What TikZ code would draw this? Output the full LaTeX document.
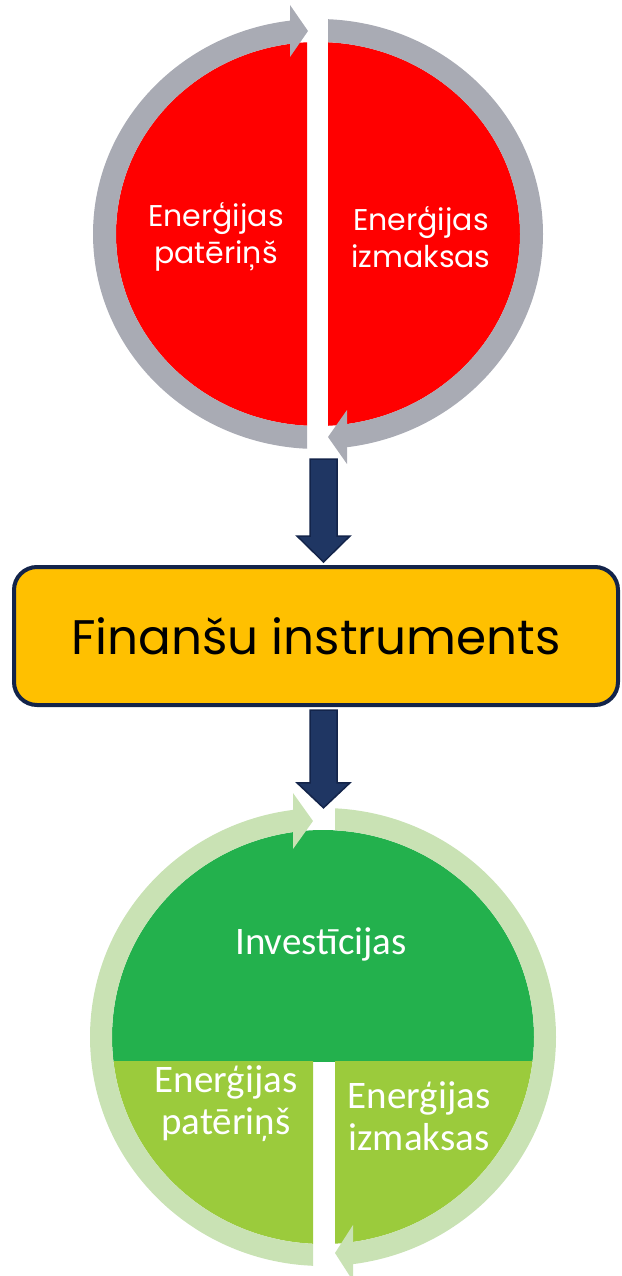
\documentclass[tikz,border=0pt]{standalone}
\usepackage{fontspec}
\newfontfamily\gothic{Poppins}
\newfontfamily\calib{Carlito}
\usetikzlibrary{calc}
\usetikzlibrary{shapes.geometric}

\definecolor{ringgray}{HTML}{A9ABB4}
\definecolor{hotred}{HTML}{FF0000}
\definecolor{navy}{HTML}{1F3663}
\definecolor{navyedge}{HTML}{13244A}
\definecolor{gold}{HTML}{FFC000}
\definecolor{darkgreen}{HTML}{23B14D}
\definecolor{lightgreen}{HTML}{9BCB3C}
\definecolor{palegreen}{HTML}{C9E2B4}

\tikzset{
	circ/.style={ellipse, draw=none, inner sep=0pt},
	redtext/.style={text=white, align=center, font=\gothic\fontsize{30}{37}\selectfont},
	greentext/.style={text=white, align=center, font=\calib\fontsize{39}{42}\selectfont},
	finbox/.style={draw=navyedge, fill=gold, line width=4pt, rounded corners=23pt, minimum width=604pt, minimum height=138pt, font=\gothic\fontsize{48.5}{58}\selectfont},
	navyarrow/.style={fill=navy, draw=navyedge, line width=1.5pt, line join=miter}
}

\begin{document}
\begin{tikzpicture}[x=1pt,y=1pt]

	\useasboundingbox (0,0) rectangle (621,-1276);

	% the two cycles
	\node[circ, minimum width=450pt, minimum height=430pt] (topc) at (318,-234) {};
	\node[circ, minimum width=466pt, minimum height=458pt] (botc) at (323,-1037) {};

	% top cycle: red halves
	\begin{scope}
		\clip (0,0) rectangle (307,-470);
		\fill[hotred] (topc.center) ellipse (202 and 192);
	\end{scope}
	\begin{scope}
		\clip (328,0) rectangle (621,-470);
		\fill[hotred] (topc.center) ellipse (202 and 192);
	\end{scope}

	% top cycle: grey ring, left part up, right part down
	\begin{scope}
		\clip (0,0) rectangle (290,-234) (0,-234) rectangle (307,-500);
		\fill[ringgray, even odd rule] (topc.center) ellipse (225 and 215) (topc.center) ellipse (202 and 192);
	\end{scope}
	\fill[ringgray] (290,-5) -- (308,-31) -- (290,-57) -- cycle;
	\begin{scope}
		\clip (328,0) rectangle (621,-234) (347,-234) rectangle (621,-500);
		\fill[ringgray, even odd rule] (topc.center) ellipse (225 and 215) (topc.center) ellipse (202 and 192);
	\end{scope}
	\fill[ringgray] (347,-410) -- (328,-437) -- (347,-464) -- cycle;

	\node[redtext] (tl) at (216,-237) {Enerģijas\\patēriņš};
	\node[redtext] (tr) at (421,-237) {Enerģijas\\izmaksas};

	% box
	\node[finbox] (fin) at (316,-636) {Finanšu instruments};

	% bottom cycle: fills
	\begin{scope}
		\clip (0,-780) rectangle (621,-1061);
		\fill[darkgreen] (botc.center) ellipse (211 and 207);
	\end{scope}
	\begin{scope}
		\clip (0,-1061) rectangle (313,-1300) (335,-1061) rectangle (621,-1300);
		\fill[lightgreen] (botc.center) ellipse (211 and 207);
	\end{scope}

	% bottom cycle: pale ring
	\begin{scope}
		\clip (0,-780) rectangle (293,-1037) (0,-1037) rectangle (313,-1300);
		\fill[palegreen, even odd rule] (botc.center) ellipse (233 and 229) (botc.center) ellipse (211 and 207);
	\end{scope}
	\fill[palegreen] (293,-793) -- (313,-821) -- (293,-849) -- cycle;
	\begin{scope}
		\clip (335,-780) rectangle (621,-1037) (353,-1037) rectangle (621,-1300);
		\fill[palegreen, even odd rule] (botc.center) ellipse (233 and 229) (botc.center) ellipse (211 and 207);
	\end{scope}
	\fill[palegreen] (353,-1225) -- (335,-1253) -- (353,-1281) -- cycle;

	\node[greentext] (inv) at (321,-944) {Investīcijas};
	\node[greentext] (bl) at (226,-1104) {Enerģijas\\patēriņš};
	\node[greentext] (br) at (419,-1116) {Enerģijas\\izmaksas};

	% block arrows
	\coordinate (a1) at (323.5,-459);
	\coordinate (a2) at (323.5,-710);
	\draw[navyarrow] let \p1=(a1), \p2=(a1 |- fin.north) in
		(\x1-13.5pt,\y1) -- (\x1-13.5pt,\y2+29pt) -- (\x1-26.5pt,\y2+29pt) -- (\x1,\y2+3pt)
		-- (\x1+26.5pt,\y2+29pt) -- (\x1+13.5pt,\y2+29pt) -- (\x1+13.5pt,\y1) -- cycle;
	\draw[navyarrow] let \p1=(a2), \p2=(a2 |- botc.north) in
		(\x1-13.5pt,\y1) -- (\x1-13.5pt,\y2+25pt) -- (\x1-26.5pt,\y2+25pt) -- (\x1,\y2)
		-- (\x1+26.5pt,\y2+25pt) -- (\x1+13.5pt,\y2+25pt) -- (\x1+13.5pt,\y1) -- cycle;

\end{tikzpicture}
\end{document}
